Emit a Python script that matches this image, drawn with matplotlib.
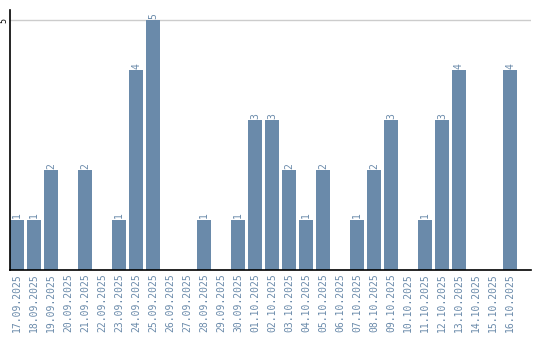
import matplotlib
matplotlib.use("Agg")
import matplotlib.pyplot as plt
import numpy as np

# daily counts, 17.09.2025 - 16.10.2025
dates = ['17.09.2025', '18.09.2025', '19.09.2025', '20.09.2025', '21.09.2025',
         '22.09.2025', '23.09.2025', '24.09.2025', '25.09.2025', '26.09.2025',
         '27.09.2025', '28.09.2025', '29.09.2025', '30.09.2025', '01.10.2025',
         '02.10.2025', '03.10.2025', '04.10.2025', '05.10.2025', '06.10.2025',
         '07.10.2025', '08.10.2025', '09.10.2025', '10.10.2025', '11.10.2025',
         '12.10.2025', '13.10.2025', '14.10.2025', '15.10.2025', '16.10.2025']
counts = [1, 1, 2, 0, 2, 0, 1, 4, 5, 0,
          0, 1, 0, 1, 3, 3, 2, 1, 2, 0,
          1, 2, 3, 0, 1, 3, 4, 0, 0, 4]

bar_color = '#6a8aaa'
text_color = '#6a8aaa'
bar_w = 14 / 17

fig = plt.figure(figsize=(5.4, 3.4), dpi=100)
ax = fig.add_axes([10 / 540, 70 / 340, 521 / 540, 260 / 340])

x = np.arange(len(dates))
ax.bar(x, counts, width=bar_w, align='edge', color=bar_color, zorder=2)

for xi, v in zip(x, counts):
    if v > 0:
        ax.text(xi + bar_w / 2, v + 0.03, str(v), rotation=90, ha='center', va='bottom',
                color=text_color, fontsize=7, family='DejaVu Sans Mono')

ax.axhline(5, color='#cccccc', linewidth=1, zorder=1)

ax.set_xlim(0, 521 / 17)
ax.set_ylim(0, 5.2)
ax.set_xticks(x + bar_w / 2)
ax.set_xticklabels(dates, rotation=90, color=text_color, fontsize=7, family='DejaVu Sans Mono')
ax.set_yticks([5])
ax.set_yticklabels([])
ax.tick_params(length=0, pad=2)

# y tick label "5" placed by hand so it stays inside the figure
ax.text(-6 / 17, 5, '5', rotation=90, ha='center', va='center',
        fontsize=6, family='DejaVu Sans Mono', color='black', clip_on=False)

for s in ['top', 'right']:
    ax.spines[s].set_visible(False)
for s in ['left', 'bottom']:
    ax.spines[s].set_color('black')
    ax.spines[s].set_linewidth(1.2)

fig.savefig('out.png', dpi=100)
